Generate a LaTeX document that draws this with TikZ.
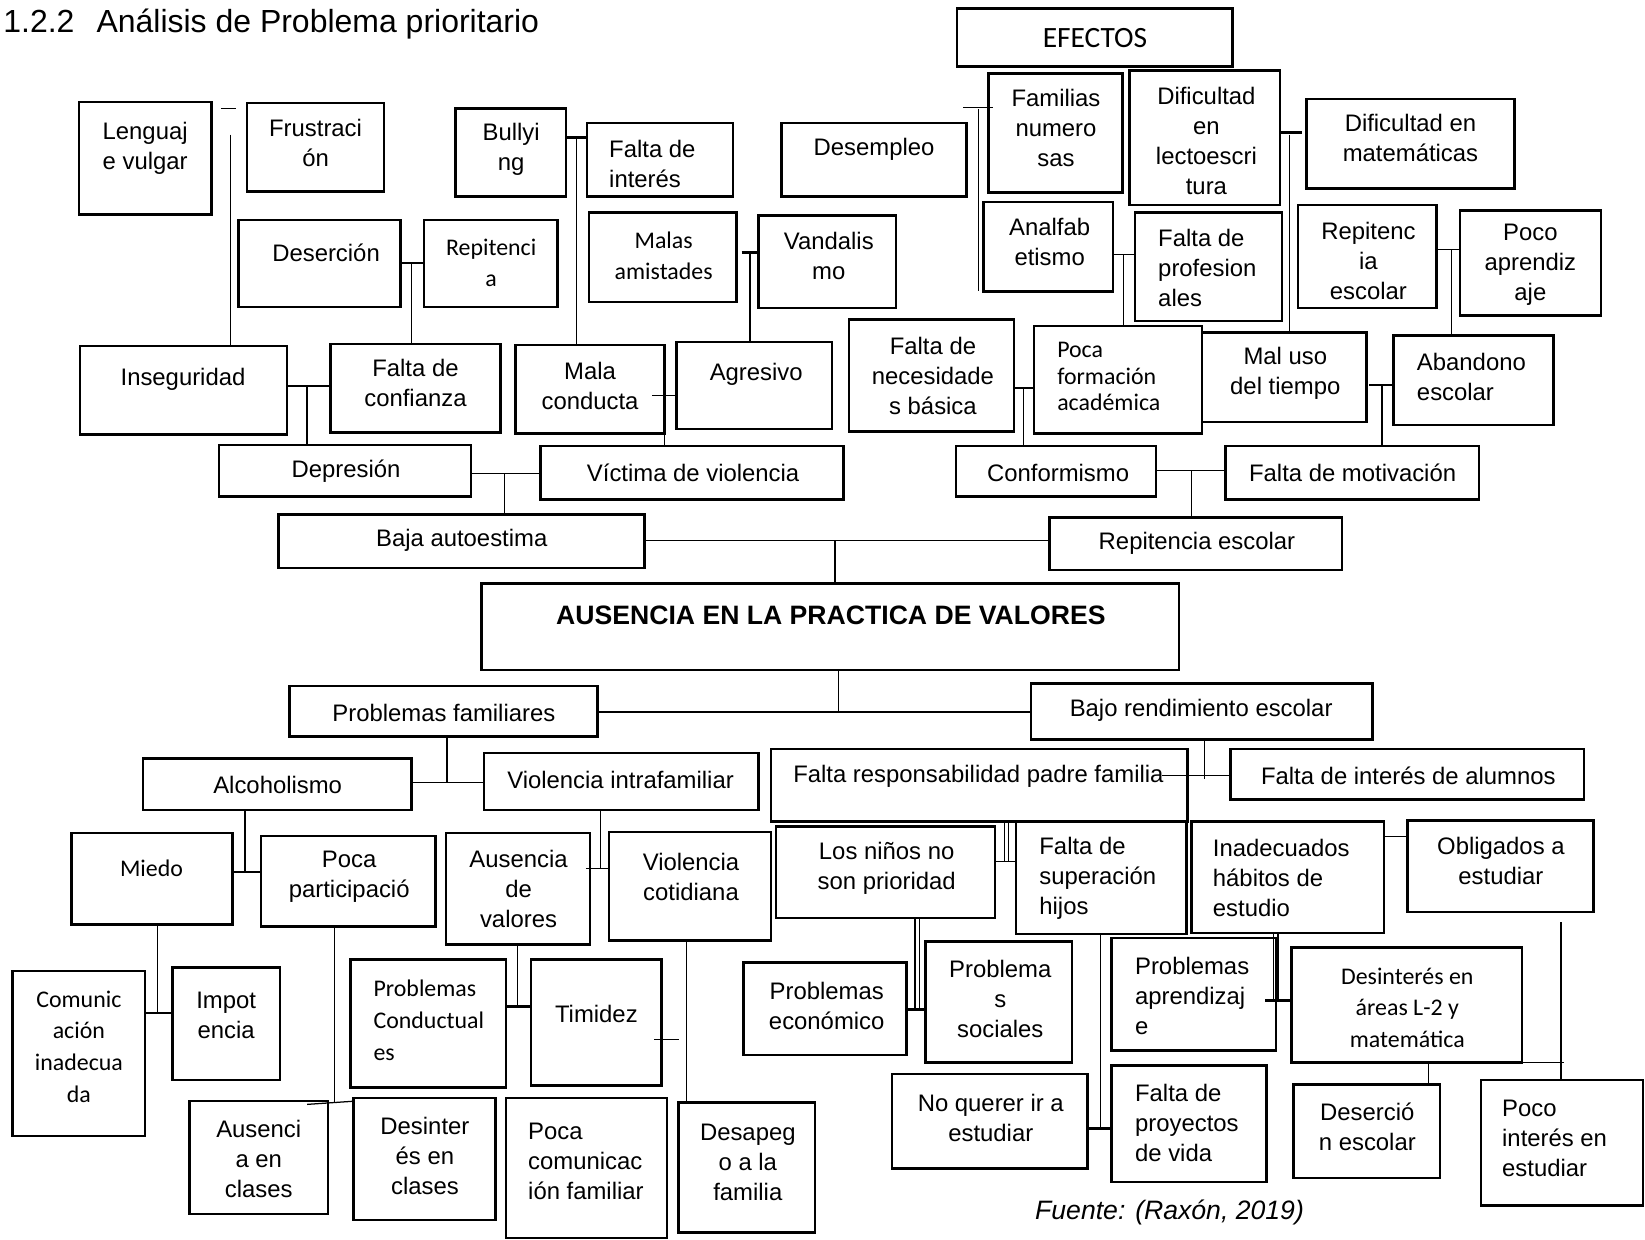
\documentclass[tikz,border=0pt]{standalone}
\usepackage{fontspec}
\setmainfont{Liberation Sans}
\newfontfamily\calibri{Carlito}

\begin{document}
\begin{tikzpicture}[x=1pt,y=-1pt,
  caja/.style={draw,line width=2.4pt,anchor=north west,inner sep=0pt,outer sep=0pt},
  txt/.style={font=\fontsize{22.7}{28.5}\selectfont,align=center,inner sep=0pt},
  txtc/.style={font=\calibri\fontsize{22.7}{30}\selectfont,align=center,inner sep=0pt},
  izq/.style={align=left,anchor=west},
  linea/.style={line width=1.2pt},
  tick/.style={line width=2.6pt}]
\useasboundingbox (0,0) rectangle (1564,1178);

\node[anchor=base west,inner sep=0pt,font=\fontsize{30.4}{36}\selectfont] (titulo) at (3,31) {1.2.2\hspace{21pt}Análisis de Problema prioritario};

\node[caja,minimum width=262,minimum height=55] (efectos) at (910,8) {};
\node[caja,minimum width=126,minimum height=107] (lenguaje) at (75,97) {};
\node[caja,minimum width=130,minimum height=84] (frustracion) at (235,98) {};
\node[caja,minimum width=105,minimum height=84] (bullying) at (433,103) {};
\node[caja,minimum width=139,minimum height=70] (faltainteres) at (558,117) {};
\node[caja,minimum width=176,minimum height=70] (desempleo) at (743,117) {};
\node[caja,minimum width=127,minimum height=113] (familias) at (940,70) {};
\node[caja,minimum width=143,minimum height=128] (dificlecto) at (1074,67) {};
\node[caja,minimum width=198,minimum height=85] (dificmat) at (1242,94) {};
\node[caja,minimum width=154,minimum height=83] (desercion) at (227,209) {};
\node[caja,minimum width=127,minimum height=83] (repitencia) at (403,209) {};
\node[caja,minimum width=140,minimum height=85] (malas) at (560,202) {};
\node[caja,minimum width=131,minimum height=88] (vandalismo) at (721,205) {};
\node[caja,minimum width=123,minimum height=85] (analfab) at (935,192) {};
\node[caja,minimum width=140,minimum height=103] (profesionales) at (1079,202) {};
\node[caja,minimum width=132,minimum height=98] (repitesc) at (1234,195) {};
\node[caja,minimum width=134,minimum height=100] (pocoaprend) at (1388,200) {};
\node[caja,minimum width=197,minimum height=84] (inseguridad) at (76,329) {};
\node[caja,minimum width=162,minimum height=84] (confianza) at (314,327) {};
\node[caja,minimum width=142,minimum height=84] (malaconducta) at (490,328) {};
\node[caja,minimum width=148,minimum height=83] (agresivo) at (643,325) {};
\node[caja,minimum width=157,minimum height=106] (necesidades) at (807,304) {};
\node[caja,minimum width=160,minimum height=102] (formacion) at (983,310) {};
\node[caja,minimum width=156,minimum height=85] (maluso) at (1143,316) {};
\node[caja,minimum width=152,minimum height=85] (abandono) at (1325,319) {};
\node[caja,minimum width=240,minimum height=49] (depresion) at (208,423) {};
\node[caja,minimum width=288,minimum height=51] (victima) at (514,424) {};
\node[caja,minimum width=190,minimum height=48] (conformismo) at (909,424) {};
\node[caja,minimum width=241,minimum height=51] (motivacion) at (1165,424) {};
\node[caja,minimum width=348,minimum height=51] (baja) at (265,489) {};
\node[caja,minimum width=278,minimum height=50] (repitescolar) at (998,492) {};
\node[caja,minimum width=663,minimum height=82] (ausencia) at (458,555) {};
\node[caja,minimum width=293,minimum height=48] (probfam) at (275,652) {};
\node[caja,minimum width=325,minimum height=53] (bajorend) at (980,650) {};
\node[caja,minimum width=255,minimum height=49] (alcoholismo) at (136,721) {};
\node[caja,minimum width=261,minimum height=54] (violintra) at (460,716) {};
\node[caja,minimum width=396,minimum height=69] (faltaresp) at (733,712) {};
\node[caja,minimum width=336,minimum height=48] (faltaintalum) at (1170,712) {};
\node[caja,minimum width=153,minimum height=87] (miedo) at (68,792) {};
\node[caja,minimum width=166,minimum height=86] (pocapart) at (248,795) {};
\node[caja,minimum width=137,minimum height=106] (ausvalores) at (424,792) {};
\node[caja,minimum width=154,minimum height=103] (violcot) at (579,791) {};
\node[caja,minimum width=208,minimum height=87] (ninos) at (738,786) {};
\node[caja,minimum width=162,minimum height=107] (superacion) at (966,781) {};
\node[caja,minimum width=183,minimum height=106] (inadecuados) at (1133,781) {};
\node[caja,minimum width=177,minimum height=87] (obligados) at (1338,780) {};
\node[caja,minimum width=126,minimum height=157] (comunicacion) at (12,923) {};
\node[caja,minimum width=102,minimum height=107] (impotencia) at (164,920) {};
\node[caja,minimum width=148,minimum height=122] (probcond) at (333,912) {};
\node[caja,minimum width=124,minimum height=120] (timidez) at (505,912) {};
\node[caja,minimum width=155,minimum height=88] (probecon) at (707,915) {};
\node[caja,minimum width=139,minimum height=115] (probsoc) at (880,895) {};
\node[caja,minimum width=156,minimum height=107] (probaprend) at (1057,892) {};
\node[caja,minimum width=219,minimum height=109] (desintareas) at (1228,901) {};
\node[caja,minimum width=132,minimum height=107] (ausclases) at (180,1047) {};
\node[caja,minimum width=135,minimum height=116] (desintclases) at (336,1044) {};
\node[caja,minimum width=153,minimum height=133] (pococom) at (481,1044) {};
\node[caja,minimum width=130,minimum height=124] (desapego) at (645,1048) {};
\node[caja,minimum width=186,minimum height=90] (noquerer) at (848,1021) {};
\node[caja,minimum width=147,minimum height=111] (proyectos) at (1057,1013) {};
\node[caja,minimum width=139,minimum height=89] (desercesc) at (1230,1031) {};
\node[caja,minimum width=154,minimum height=119] (pocointeres) at (1408,1027) {};

\node[txt,font=\calibri\fontsize{28}{33}\selectfont] (efectos-t) at (1041,36) {EFECTOS};
\node[txt] (lenguaje-t) at (138,141) {Lenguaj\\e vulgar};
\node[txt] (frustracion-t) at (300,136) {Frustraci\\ón};
\node[txt] (bullying-t) at (486,142) {Bullyi\\ng};
\node[txt,izq] (faltainteres-t) at (579,156) {Falta de\\interés};
\node[txt] (desempleo-t) at (831,142) {Desempleo};
\node[txt] (familias-t) at (1004,122) {Familias\\numero\\sas};
\node[txt] (dificlecto-t) at (1147,134) {Dificultad\\en\\lectoescri\\tura};
\node[txt] (dificmat-t) at (1341,131) {Dificultad en\\matemáticas};
\node[txt] (desercion-t) at (310,240) {Deserción};
\node[txtc] (repitencia-t) at (467,250) {Repitenci\\a};
\node[txtc] (malas-t) at (631,243) {Malas\\amistades};
\node[txt] (vandalismo-t) at (788,243) {Vandalis\\mo};
\node[txt] (analfab-t) at (998,230) {Analfab\\etismo};
\node[txt,izq] (profesionales-t) at (1101,255) {Falta de\\profesion\\ales};
\node[txt] (repitesc-t) at (1301,248) {Repitenc\\ia\\escolar};
\node[txt] (pocoaprend-t) at (1455,252) {Poco\\aprendiz\\aje};
\node[txt] (inseguridad-t) at (174,361) {Inseguridad};
\node[txt] (confianza-t) at (395,364) {Falta de\\confianza};
\node[txt] (malaconducta-t) at (561,367) {Mala\\conducta};
\node[txt] (agresivo-t) at (719,356) {Agresivo};
\node[txt] (necesidades-t) at (887,357) {Falta de\\necesidade\\s básica};
\node[txtc,izq,font=\calibri\fontsize{22.7}{25}\selectfont] (formacion-t) at (1005,358) {Poca\\formación\\académica};
\node[txt] (maluso-t) at (1222,355) {Mal uso\\del tiempo};
\node[txt,izq] (abandono-t) at (1347,358) {Abandono\\escolar};
\node[txt] (depresion-t) at (329,448) {Depresión};
\node[txt] (victima-t) at (659,450) {Víctima de violencia};
\node[txt] (conformismo-t) at (1006,450) {Conformismo};
\node[txt] (motivacion-t) at (1286,450) {Falta de motivación};
\node[txt] (baja-t) at (439,514) {Baja autoestima};
\node[txt] (repitescolar-t) at (1138,517) {Repitencia escolar};
\node[txt,font=\bfseries\fontsize{25.3}{30}\selectfont] (ausencia-t) at (790,585) {AUSENCIA EN LA PRACTICA DE VALORES};
\node[txt] (probfam-t) at (422,678) {Problemas familiares};
\node[txt] (bajorend-t) at (1142,675) {Bajo rendimiento escolar};
\node[txt] (alcoholismo-t) at (264,746) {Alcoholismo};
\node[txt] (violintra-t) at (590,742) {Violencia intrafamiliar};
\node[txt,izq] (faltaresp-t) at (754,738) {Falta responsabilidad padre familia};
\node[txt] (faltaintalum-t) at (1339,738) {Falta de interés de alumnos};
\node[txtc] (miedo-t) at (144,826) {Miedo};
\node[txt] (pocapart-t) at (332,834) {Poca\\participació};
\node[txt] (ausvalores-t) at (493,845) {Ausencia\\de\\valores};
\node[txt] (violcot-t) at (657,834) {Violencia\\cotidiana};
\node[txt] (ninos-t) at (843,826) {Los niños no\\son prioridad};
\node[txt,izq] (superacion-t) at (988,835) {Falta de\\superación\\hijos};
\node[txt,izq] (inadecuados-t) at (1153,835) {Inadecuados\\hábitos de\\estudio};
\node[txt] (obligados-t) at (1427,819) {Obligados a\\estudiar};
\node[txtc] (comunicacion-t) at (75,995) {Comunic\\ación\\inadecua\\da};
\node[txt] (impotencia-t) at (215,965) {Impot\\encia};
\node[txtc,izq] (probcond-t) at (355,970) {Problemas\\Conductual\\es};
\node[txt] (timidez-t) at (567,964) {Timidez};
\node[txt] (probecon-t) at (786,956) {Problemas\\económico};
\node[txt] (probsoc-t) at (951,950) {Problema\\s\\sociales};
\node[txt,izq] (probaprend-t) at (1079,947) {Problemas\\aprendizaj\\e};
\node[txtc] (desintareas-t) at (1338,958) {Desinterés en\\áreas L-2 y\\matemática};
\node[txt] (ausclases-t) at (246,1102) {Ausenci\\a en\\clases};
\node[txt] (desintclases-t) at (404,1099) {Desinter\\és en\\clases};
\node[txt,izq] (pococom-t) at (502,1104) {Poca\\comunicac\\ión familiar};
\node[txt] (desapego-t) at (711,1105) {Desapeg\\o a la\\familia};
\node[txt] (noquerer-t) at (942,1063) {No querer ir a\\estudiar};
\node[txt,izq] (proyectos-t) at (1079,1068) {Falta de\\proyectos\\de vida};
\node[txt] (desercesc-t) at (1300,1071) {Deserció\\n escolar};
\node[txt,izq] (pocointeres-t) at (1428,1082) {Poco\\interés en\\estudiar};

\node[anchor=west,inner sep=0pt,font=\itshape\fontsize{25.3}{30}\selectfont] (fuente) at (984,1153) {Fuente: (Raxón, 2019)};

\coordinate (g1) at (210,103);
\draw[linea] (g1) -- ++(14,0);
\coordinate (j1) at (219,128);
\draw[linea] (j1) -- (j1 |- inseguridad.north);

\coordinate (j2) at (548,131);
\draw[tick] (bullying.east |- j2) -- (faltainteres.west |- j2);
\draw[linea] (j2) -- (j2 |- malaconducta.north);

\coordinate (j3) at (930,102);
\draw[linea] ([xshift=-14]j3) -- ([xshift=14]j3);
\draw[linea] ([yshift=-2]j3) -- (j3 |- analfab.south);

\coordinate (j4) at (1226,126);
\draw[tick] (dificlecto.east |- j4) -- ([xshift=12]j4);
\draw[linea] ([yshift=-2]j4) -- (j4 |- maluso.north);

\coordinate (j5) at (391,250);
\draw[tick] (desercion.east |- j5) -- (repitencia.west |- j5);
\draw[linea] (j5) -- (j5 |- confianza.north);

\coordinate (j6) at (713,240);
\draw[tick] ([xshift=-8]j6) -- (vandalismo.west |- j6);
\draw[linea] (j6) -- (j6 |- agresivo.north);

\coordinate (j7) at (1068,242);
\draw[linea] (analfab.east |- j7) -- (profesionales.west |- j7);
\draw[linea] (j7) -- (j7 |- formacion.north);

\coordinate (j8) at (1380,237);
\draw[linea] (repitesc.east |- j8) -- (pocoaprend.west |- j8);
\draw[linea] (j8) -- (j8 |- abandono.north);

\coordinate (j9) at (292,367);
\draw[linea] (inseguridad.east |- j9) -- (confianza.west |- j9);
\draw[linea] (j9) -- (j9 |- depresion.north);

\coordinate (j10) at (620,376);
\draw[linea] (j10) -- (agresivo.west |- j10);
\draw[linea] (malaconducta.south east) -- (malaconducta.south east |- victima.north);

\coordinate (j11) at (973,369);
\draw[linea] (necesidades.east |- j11) -- (formacion.west |- j11);
\draw[linea] (j11) -- (j11 |- conformismo.north);

\coordinate (j12) at (1314,366);
\draw[tick] ([xshift=-12]j12) -- (abandono.west |- j12);
\draw[linea] (j12) -- (j12 |- motivacion.north);

\coordinate (j13) at (480,450);
\draw[linea] (depresion.east |- j13) -- (victima.west |- j13);
\draw[linea] (j13) -- (j13 |- baja.north);

\coordinate (j14) at (1133,447);
\draw[linea] (conformismo.east |- j14) -- (motivacion.west |- j14);
\draw[linea] (j14) -- (j14 |- repitescolar.north);

\coordinate (j15) at (794,514);
\draw[linea] (baja.east |- j15) -- (repitescolar.west |- j15);
\draw[linea] (j15) -- (j15 |- ausencia.north);

\coordinate (j16) at (797,677);
\draw[linea] (j16 |- ausencia.south) -- (j16);
\draw[linea] (probfam.east |- j16) -- (bajorend.west |- j16);

\coordinate (j17) at (425,744);
\draw[linea] (j17 |- probfam.south) -- (j17);
\draw[linea] (alcoholismo.east |- j17) -- (violintra.west |- j17);

\coordinate (j18) at (1145,737);
\draw[linea] (j18 |- bajorend.south) -- ([yshift=-4]j18);
\draw[linea] ([xshift=-40]j18) -- (faltaintalum.west |- j18);

\coordinate (j19) at (233,829);
\draw[linea] (j19 |- alcoholismo.south) -- (j19);
\draw[tick] (miedo.east |- j19) -- (pocapart.west |- j19);

\coordinate (j20) at (571,826);
\draw[linea] (j20 |- violintra.south) -- (j20);
\draw[linea] ([xshift=-14]j20) -- (violcot.west |- j20);

\coordinate (j21a) at (955,819);
\coordinate (j21b) at (959,819);
\draw[linea] (j21a |- faltaresp.south) -- (j21a);
\draw[linea] (j21b |- faltaresp.south) -- (j21b);
\draw[linea] (ninos.east |- j21a) -- (superacion.west |- j21a);

\coordinate (j22) at (1327,795);
\draw[linea] (inadecuados.east |- j22) -- (obligados.west |- j22);

\coordinate (j23) at (150,963);
\draw[linea] (j23 |- miedo.south) -- (j23);
\draw[tick] (comunicacion.east |- j23) -- (impotencia.west |- j23);

\coordinate (j24) at (318,1048);
\draw[linea] (j24 |- pocapart.south) -- (j24);
\draw[linea] ([xshift=-26,yshift=-2]j24) -- ([yshift=-3]desintclases.north west);

\coordinate (j25) at (492,957);
\draw[linea] (j25 |- ausvalores.south) -- (j25);
\draw[tick] (probcond.east |- j25) -- (timidez.west |- j25);

\coordinate (j26) at (622,988);
\draw[linea] (j26) -- ++(24,0);

\coordinate (j27) at (653,894);
\draw[linea] (j27 |- violcot.south) -- (j27 |- desapego.north);

\coordinate (j28a) at (870,960);
\coordinate (j28b) at (874,960);
\draw[linea] (j28a |- ninos.south) -- (j28a);
\draw[linea] (j28b |- ninos.south) -- (j28b);
\draw[tick] (probecon.east |- j28a) -- (probsoc.west |- j28a);

\coordinate (j29) at (1046,1073);
\draw[linea] (j29 |- superacion.south) -- (j29);
\draw[tick] (noquerer.east |- j29) -- (proyectos.west |- j29);

\coordinate (j30a) at (1211,951);
\coordinate (j30b) at (1215,951);
\draw[linea] (j30a |- inadecuados.south) -- (j30a);
\draw[linea] (j30b |- inadecuados.south) -- (j30b);
\draw[tick] ([xshift=-8]j30a) -- (desintareas.west |- j30a);

\coordinate (j31) at (1358,1010);
\draw[linea] (j31 |- desintareas.south) -- (j31 |- desercesc.north);
\draw[linea] (desintareas.south east) -- ++(40,0);
\coordinate (j32) at (1484,877);
\draw[linea] (j32) -- (j32 |- pocointeres.north);

\end{tikzpicture}
\end{document}
